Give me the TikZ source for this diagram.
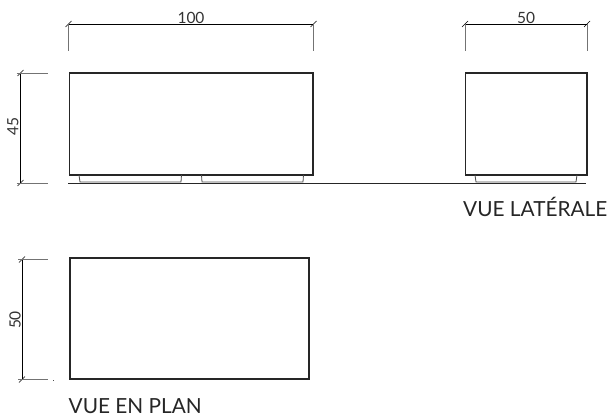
\documentclass[tikz,border=0pt]{standalone}
\usepackage{fontspec}
\setmainfont{Lato}
\usetikzlibrary{calc}
\tikzset{
	boxline/.style={line width=1.5pt,black!85},
	footline/.style={line width=.8pt,black!70},
	dimline/.style={line width=.7pt,black},
	extline/.style={line width=.7pt,black!55},
	dimtext/.style={font=\fontsize{15.5}{15.5}\selectfont,black!80,inner sep=0pt},
	viewtext/.style={font=\fontsize{20.8}{20.8}\selectfont,black!85,inner sep=0pt,anchor=base west}
}
\newcommand{\dimtick}[1]{\draw[dimline] ($(#1)+(-3,3)$)--($(#1)+(3,-3)$);}
\begin{document}
\begin{tikzpicture}[x=1pt,y=-1pt]
	\useasboundingbox (0,0) rectangle (611,417);
	% vue de face
	\draw[boxline] (69.5,73) rectangle (313,175);
	\draw[footline] (79,175)--(80,182)--(181,182)--(181.5,175);
	\draw[footline] (201.5,175)--(202,182)--(303,182)--(303.5,175);
	% sol
	\draw[line width=.9pt,black!85] (68,183.5)--(586,183.5);
	% vue laterale
	\draw[boxline] (465.5,73) rectangle (587,175);
	\draw[footline] (475,175)--(476,182)--(576,182)--(577,175);
	% vue en plan
	\draw[boxline] (70,258) rectangle (309,379);
	% cotes
	\coordinate (a1) at (68.5,24);
	\coordinate (a2) at (313.5,24);
	\coordinate (b1) at (465,24);
	\coordinate (b2) at (587,24);
	\coordinate (c1) at (20.5,73);
	\coordinate (c2) at (20.5,183);
	\coordinate (d1) at (22,259.5);
	\coordinate (d2) at (22,379.5);
	\draw[dimline] (a1)--(a2);
	\draw[dimline] (b1)--(b2);
	\draw[dimline] (c1)--(c2);
	\draw[dimline] (d1)--(d2);
	\foreach \p in {a1,a2,b1,b2,c1,c2,d1,d2} {\dimtick{\p}}
	\foreach \p in {a1,a2,b1,b2} {\draw[extline] (\p)--($(\p)+(0,27)$);}
	\foreach \p in {c1,c2} {\draw[extline] ($(\p)+(-4,0)$)--($(\p)+(27,0)$);}
	\foreach \p in {d1,d2} {\draw[extline] ($(\p)+(-4,0)$)--($(\p)+(26,0)$);}
	\fill[black!70] (53,379.5) rectangle (54,381);
	\node[dimtext] (w1) at (191,18) {100};
	\node[dimtext] (w2) at (526,18) {50};
	\node[dimtext,rotate=90] (h1) at (13,127) {45};
	\node[dimtext,rotate=90] (h2) at (15,320) {50};
	\node[viewtext] (lat) at (463,217) {VUE LATÉRALE};
	\node[viewtext] (plan) at (68.5,413.5) {VUE EN PLAN};
\end{tikzpicture}
\end{document}
